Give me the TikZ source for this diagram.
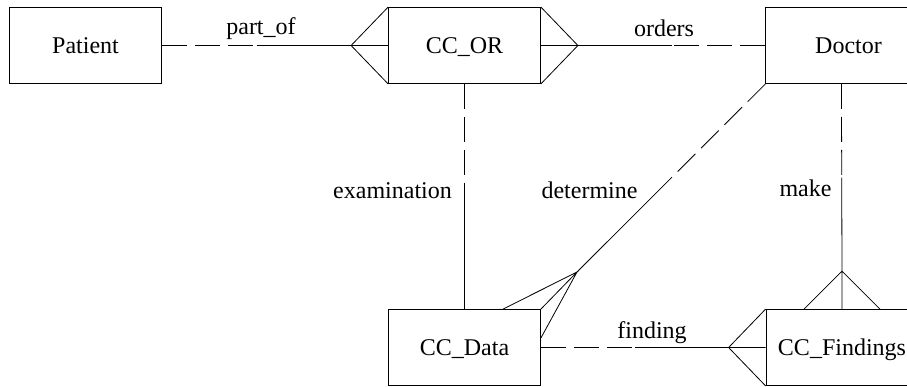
\documentclass[tikz,border=0pt]{standalone}
\usepackage{fontspec}
\setmainfont{Liberation Serif}
\newfontfamily\erfont{Liberation Serif}
\usetikzlibrary{calc}
\tikzset{entity/.style={draw,minimum width=114pt,minimum height=57pt,inner sep=0pt,
    text height=11.9pt,text depth=0pt,font=\erfont\fontsize{18}{20}\selectfont},
    rel/.style={anchor=base,inner sep=0pt,font=\erfont\fontsize{18}{20}\selectfont},
    optional/.style={dash pattern=on 18.75pt off 6pt}}

\begin{document}
\begin{tikzpicture}[x=0.75pt,y=0.75pt,yscale=-1,xscale=1,line width=0.6pt]
\useasboundingbox (0,0) rectangle (907,386);

%Entities
\node[entity] (patient) at (85.5,45.5) {Patient};
\node[entity] (ccor) at (464.5,45.5) {CC\_OR};
\node[entity,minimum width=124pt] (doctor) at (848.5,45.5) {Doctor};
\node[entity] (ccdata) at (464.5,347.5) {CC\_Data};
\node[entity] (ccfind) at (842,347.5) {CC\_Findings};

%Crow feet tips
\coordinate (poTip) at ($(ccor.west)+(-37,0)$);
\coordinate (orTip) at ($(ccor.east)+(37,0)$);
\coordinate (fiTip) at ($(ccfind.west)+(-37,0)$);
\coordinate (mkTip) at ($(ccfind.north)+(0,-38)$);
\coordinate (deTip) at (577,272);
\coordinate (mkTop) at ($(doctor.south west)+(76,0)$);

%Relationships: dashed half, solid half
\foreach \a/\b in {patient.east/poTip,ccor.south/ccdata.north,doctor.west/orTip,
    mkTop/mkTip,doctor.south west/deTip,ccdata.east/fiTip}{
  \draw[optional] (\a) -- ($(\a)!.5!(\b)$);
  \draw ($(\a)!.5!(\b)$) -- (\b);
}

%Crow feet
\draw (ccor.north west) -- (poTip) -- (ccor.south west) (poTip) -- (ccor.west);
\draw (ccor.north east) -- (orTip) -- (ccor.south east) (orTip) -- (ccor.east);
\draw (ccfind.north west) -- (fiTip) -- (ccfind.south west) (fiTip) -- (ccfind.west);
\draw ($(ccfind.north)+(-38,0)$) -- (mkTip) -- ($(ccfind.north)+(38,0)$) (mkTip) -- (ccfind.north);
\draw ($(ccdata.north)+(38.5,0)$) -- (deTip) -- (ccdata.north east) (deTip) -- ($(ccdata.east)+(0,-9.5)$);

%Labels
\node[rel] (partof) at (261,34) {part\_of};
\node[rel] (orders) at (664,36) {orders};
\node[rel] (exam) at (392.5,198) {examination};
\node[rel] (determine) at (589.5,198) {determine};
\node[rel] (make) at (805.5,196) {make};
\node[rel] (finding) at (652,338) {finding};

\end{tikzpicture}
\end{document}
